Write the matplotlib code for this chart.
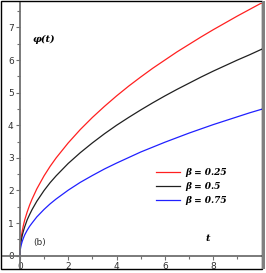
import numpy as np
import matplotlib
matplotlib.use('Agg')
import matplotlib.pyplot as plt
from matplotlib.patches import Rectangle

# values
t = [0, 0.01, 0.02, 0.05, 0.1, 0.15, 0.2, 0.3, 0.4, 0.5, 0.7, 1, 1.25, 1.5, 2, 2.5, 3, 3.5, 4, 4.5,
     5, 5.5, 6, 6.5, 7, 7.5, 8, 8.5, 9, 9.5, 10]
phi_025 = [0, 0.25, 0.35, 0.55, 0.77, 0.95, 1.10, 1.34, 1.55, 1.73, 2.05, 2.45, 2.74, 3.00, 3.46, 3.87,
           4.24, 4.58, 4.90, 5.20, 5.48, 5.75, 6.00, 6.25, 6.48, 6.71, 6.93, 7.14, 7.35, 7.55, 7.75]
phi_05 = [0, 0.20, 0.28, 0.45, 0.63, 0.77, 0.89, 1.10, 1.26, 1.41, 1.67, 2.00, 2.24, 2.45, 2.83, 3.16,
          3.46, 3.74, 4.00, 4.24, 4.47, 4.69, 4.90, 5.10, 5.29, 5.48, 5.66, 5.83, 6.00, 6.16, 6.33]
phi_075 = [0, 0.14, 0.20, 0.32, 0.45, 0.55, 0.64, 0.78, 0.90, 1.00, 1.19, 1.42, 1.59, 1.74, 2.01, 2.25,
           2.46, 2.66, 2.84, 3.01, 3.18, 3.33, 3.48, 3.62, 3.76, 3.89, 4.02, 4.14, 4.26, 4.38, 4.49]
labels = ['β = 0.25', 'β = 0.5', 'β = 0.75']
colors = ['#ff2020', '#202020', '#2020ff']

fig = plt.figure(figsize=(2.66, 2.73), dpi=100)
ax = fig.add_axes([3/266, 5/273, 258.5/266, 265/273])

for y, lab, c in zip([phi_025, phi_05, phi_075], labels, colors):
    ax.plot(t, y, color=c, lw=0.9, label=lab)

ax.set_xlim(-0.7, 10)
ax.set_ylim(-0.377, 7.75)

# axes crossing at the origin, maple style
for s in ['top', 'right']:
    ax.spines[s].set_visible(False)
ax.spines['left'].set_position(('data', 0))
ax.spines['bottom'].set_position(('data', 0))
for s in ['left', 'bottom']:
    ax.spines[s].set_color('#707070')
    ax.spines[s].set_linewidth(1.3)

ax.set_xticks([0, 2, 4, 6, 8])
ax.set_xticks([1, 3, 5, 7, 9], minor=True)
ax.set_yticks(range(0, 8))
ax.set_yticks(np.arange(0.5, 7.6, 1), minor=True)
ax.tick_params(which='both', direction='out', color='#707070', width=0.8, labelsize=6.5, labelcolor='#303030', pad=1.5)
ax.tick_params(which='major', length=3)
ax.tick_params(which='minor', length=2)
ax.set_xticklabels(['0', '2', '4', '6', '8'])

ax.text(0.5, 6.55, 'φ(t)', fontsize=7, style='italic', weight='bold', family='DejaVu Serif')
ax.text(7.7, 0.45, 't', fontsize=7, style='italic', weight='bold', family='DejaVu Serif')
ax.text(0.55, 0.33, '(b)', fontsize=6.5, color='#303030')

ax.legend(loc='center left', bbox_to_anchor=(0.592, 0.306), frameon=False,
          borderpad=0, borderaxespad=0, handlelength=2.6, handletextpad=0.6,
          labelspacing=0.55, prop={'family': 'DejaVu Serif', 'style': 'italic', 'weight': 'bold', 'size': 6.5})

# outer border around the picture
fig.patches.append(Rectangle((1/266, 4/273), 261/266, 268/273, transform=fig.transFigure,
                             fill=False, edgecolor='black', lw=1))
fig.patches.append(Rectangle((262/266, 4/273), 3/266, 268/273, transform=fig.transFigure,
                             fill=True, facecolor='#808080', edgecolor='none'))

fig.savefig('out.png', dpi=100)
